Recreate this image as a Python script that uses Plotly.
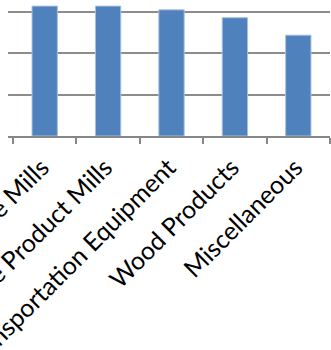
import plotly.graph_objects as go

categories = ["Textile Mills", "Textile Product Mills", "Transportation Equipment",
              "Wood Products", "Miscellaneous"]
values = [3.13, 3.13, 3.04, 2.85, 2.43]
grid_values = [1, 2, 3]

fig = go.Figure(go.Bar(
    x=categories, y=values,
    width=0.4,
    marker=dict(color="#4F81BD", line=dict(color="#A9C0DF", width=1)),
))

fig.update_layout(
    width=331, height=350,
    margin=dict(l=8, r=1, t=0, b=214),
    paper_bgcolor="white", plot_bgcolor="white",
    showlegend=False,
    bargap=0.6,
)
fig.update_xaxes(
    type="category",
    range=[-0.579, 4.5],
    automargin=False,
    showline=True, linecolor="#868686", linewidth=2,
    ticks="outside", tickson="boundaries", ticklen=6, tickwidth=2, tickcolor="#868686",
    showgrid=False,
    tickangle=-45,
    ticklabelstandoff=5, ticklabelshift=-3,
    tickfont=dict(family="Lato", size=25, color="black"),
)
fig.update_yaxes(
    range=[0, 3.277],
    automargin=False,
    tickvals=grid_values,
    showticklabels=False,
    showgrid=True, gridcolor="#8C8C8C", gridwidth=2,
    zeroline=False,
    showline=False,
)

fig.write_html("out.html", config={"displayModeBar": False},
               post_script="document.body.style.margin='0';")
